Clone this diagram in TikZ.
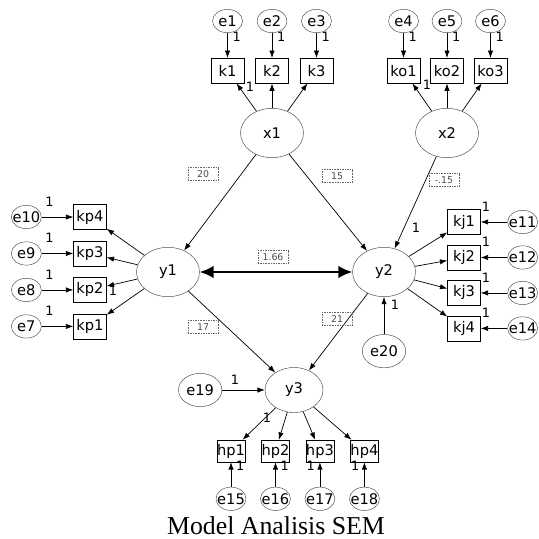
\documentclass[tikz,border=0pt]{standalone}
\usepackage{fontspec}
\setmainfont{DejaVu Sans}
\newfontfamily\captionfont{Liberation Serif}
\usetikzlibrary{shapes, arrows.meta, positioning}

\begin{document}
\begin{tikzpicture}[
          x=0.03cm, y=-0.03cm,
          font=\fontsize{12.5}{14}\selectfont,
          lat/.style={ellipse, draw=black!70, minimum width=1.89cm, minimum height=1.48cm, inner sep=0pt},
          obs/.style={rectangle, draw, minimum width=0.99cm, minimum height=0.75cm, inner sep=0pt},
          obsh/.style={obs, minimum width=0.84cm, minimum height=0.66cm},
          err/.style={ellipse, draw=black!70, minimum width=0.9cm, minimum height=0.7cm, inner xsep=-3pt, inner ysep=0pt},
          errbig/.style={err, minimum width=1.3cm, minimum height=1.0cm},
          arrow/.style={-{Latex[length=2.2mm, width=1.6mm]}, semithick},
          both/.style={{Latex[length=4.2mm, width=3.8mm]}-{Latex[length=4.2mm, width=3.8mm]}, line width=1.6pt},
          est/.style={draw=black!60, densely dotted, text=black!70, font=\fontsize{8}{9}\selectfont, minimum width=0.9cm, minimum height=0.38cm, inner sep=1pt},
          one/.style={font=\fontsize{11}{12}\selectfont, inner sep=1pt}
        ]
          \useasboundingbox (0,0) rectangle (539,539);

          \node[lat] (x1) at (272,133) {x1};
          \node[lat] (x2) at (447,133) {x2};
          \node[lat] (y1) at (168,272) {y1};
          \node[lat] (y2) at (384,272) {y2};
          \node[lat, minimum width=1.74cm, minimum height=1.35cm] (y3) at (294,390) {y3};

          \node[obs, above=0.74cm of x1] (k2) {k2};
          \node[obs, left=0.33cm of k2] (k1) {k1};
          \node[obs, right=0.33cm of k2] (k3) {k3};
          \node[obs, above=0.74cm of x2] (ko2) {ko2};
          \node[obs, left=0.3cm of ko2] (ko1) {ko1};
          \node[obs, right=0.3cm of ko2] (ko3) {ko3};
          \node[err, above=0.75cm of k1] (e1) {e1};
          \node[err, above=0.75cm of k2] (e2) {e2};
          \node[err, above=0.75cm of k3] (e3) {e3};
          \node[err, above=0.75cm of ko1] (e4) {e4};
          \node[err, above=0.75cm of ko2] (e5) {e5};
          \node[err, above=0.75cm of ko3] (e6) {e6};

          \node[obs] (kp4) at (90,217) {kp4};
          \node[obs, below=0.33cm of kp4] (kp3) {kp3};
          \node[obs, below=0.33cm of kp3] (kp2) {kp2};
          \node[obs, below=0.33cm of kp2] (kp1) {kp1};
          \node[err, left=0.95cm of kp4] (e10) {e10};
          \node[err, left=0.95cm of kp3] (e9) {e9};
          \node[err, left=0.95cm of kp2] (e8) {e8};
          \node[err, left=0.95cm of kp1] (e7) {e7};

          \node[obs] (kj1) at (464,222) {kj1};
          \node[obs, below=0.3cm of kj1] (kj2) {kj2};
          \node[obs, below=0.3cm of kj2] (kj3) {kj3};
          \node[obs, below=0.3cm of kj3] (kj4) {kj4};
          \node[err, right=0.8cm of kj1] (e11) {e11};
          \node[err, right=0.8cm of kj2] (e12) {e12};
          \node[err, right=0.8cm of kj3] (e13) {e13};
          \node[err, right=0.8cm of kj4] (e14) {e14};

          \node[obsh] (hp1) at (231,451) {hp1};
          \node[obsh, right=0.48cm of hp1] (hp2) {hp2};
          \node[obsh, right=0.48cm of hp2] (hp3) {hp3};
          \node[obsh, right=0.48cm of hp3] (hp4) {hp4};
          \node[err, below=0.74cm of hp1] (e15) {e15};
          \node[err, below=0.74cm of hp2] (e16) {e16};
          \node[err, below=0.74cm of hp3] (e17) {e17};
          \node[err, below=0.74cm of hp4] (e18) {e18};

          \node[errbig, below=1.12cm of y2] (e20) {e20};
          \node[errbig, left=1.28cm of y3] (e19) {e19};

          % error terms
          \foreach \i/\b in {1/k1, 2/k2, 3/k3, 4/ko1, 5/ko2, 6/ko3}
            \draw[arrow] (e\i) -- node[one, right=3pt, pos=0.15] (w\i) {1} (\b);
          \foreach \i/\b in {10/kp4, 9/kp3, 8/kp2, 7/kp1}
            \draw[arrow] (e\i) -- node[one, above=8pt, pos=0.25] (w\i) {1} (\b);
          \foreach \i/\b in {11/kj1, 12/kj2, 13/kj3, 14/kj4}
            \draw[arrow] (e\i) -- node[one, above=8pt, pos=0.8] (w\i) {1} (\b);
          \foreach \i/\b/\s in {15/hp1/right, 16/hp2/right, 17/hp3/left, 18/hp4/left}
            \draw[arrow] (e\i) -- node[one, \s=3pt, pos=0.85] (w\i) {1} (\b);
          \draw[arrow] (e20) -- (y2);
          \draw[arrow] (e19) -- (y3);

          % loadings
          \draw[arrow] (x1) -- (k1);
          \draw[arrow] (x1) -- (k2);
          \draw[arrow] (x1) -- (k3);
          \draw[arrow] (x2) -- (ko1);
          \draw[arrow] (x2) -- (ko2);
          \draw[arrow] (x2) -- (ko3);
          \foreach \b in {kp4, kp3, kp2, kp1}
            \draw[arrow] (y1) -- (\b);
          \foreach \b in {kj1, kj2, kj3, kj4}
            \draw[arrow] (y2) -- (\b);
          \foreach \b in {hp1, hp2, hp3, hp4}
            \draw[arrow] (y3) -- (\b);

          \node[one] (f1) at (250,87) {1};
          \node[one] (f2) at (427,85) {1};
          \node[one] (f3) at (113,291) {1};
          \node[one] (f4) at (416,228) {1};
          \node[one] (f5) at (267,418) {1};
          \node[one] (f6) at (395,305) {1};
          \node[one] (f7) at (235,380) {1};

          % paths
          \draw[arrow] (x1) -- (y1);
          \draw[arrow] (x1) -- (y2);
          \draw[arrow] (x2) -- (y2);
          \draw[arrow] (y1) -- (y3);
          \draw[arrow] (y2) -- (y3);
          \draw[both] (y1) -- (y2);

          \node[est] (b1) at (203,174) {20};
          \node[est] (b2) at (337,176) {15};
          \node[est] (b3) at (444,180) {-.15};
          \node[est] (b4) at (273,257) {1.66};
          \node[est] (b5) at (203,327) {17};
          \node[est] (b6) at (337,319) {21};

          \node[font=\captionfont\fontsize{22}{26}\selectfont, anchor=base, inner sep=1pt] (title) at (276,534) {Model Analisis SEM};
        \end{tikzpicture}
\end{document}
